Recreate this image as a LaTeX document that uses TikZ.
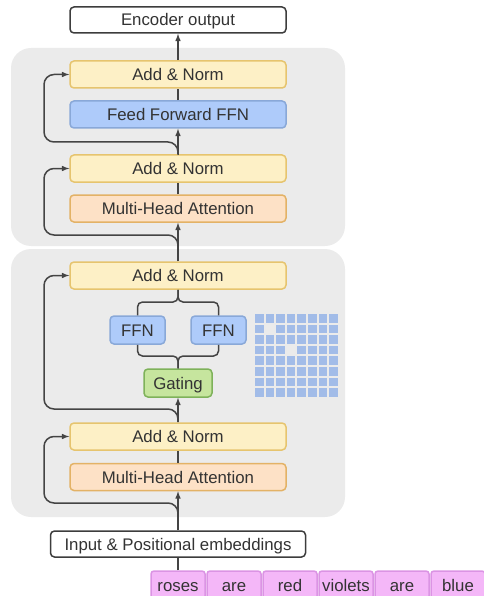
\documentclass[tikz,border=0pt]{standalone}
\usepackage{fontspec}
\setmainfont{Liberation Sans}
\usepackage{tikz}
\usetikzlibrary{arrows}
\definecolor{ink}{HTML}{444444}
\definecolor{textink}{HTML}{333333}
\definecolor{panelfill}{HTML}{EBEBEB}
\definecolor{anfill}{HTML}{FDF0C6}
\definecolor{anline}{HTML}{E6C46E}
\definecolor{ffnfill}{HTML}{AECBFA}
\definecolor{ffnline}{HTML}{89A8D8}
\definecolor{mhafill}{HTML}{FDE1C6}
\definecolor{mhaline}{HTML}{E3B266}
\definecolor{gatefill}{HTML}{C6E59E}
\definecolor{gateline}{HTML}{7EB25A}
\definecolor{wordfill}{HTML}{F4B7F8}
\definecolor{wordline}{HTML}{DB94E4}
\definecolor{cellfill}{HTML}{A2BCE8}
\tikzstyle{panel}=[fill=panelfill, rounded corners=20pt]
\tikzstyle{box}=[draw, rounded corners=4pt, line width=1.5pt, minimum width=216pt, minimum height=27pt, inner sep=0pt, text height=12pt, text depth=0pt, text=textink]
\tikzstyle{io}=[box, draw=ink!90!black, fill=white, minimum height=26pt]
\tikzstyle{addnorm}=[box, fill=anfill, draw=anline]
\tikzstyle{mha}=[box, fill=mhafill, draw=mhaline]
\tikzstyle{ffn}=[box, fill=ffnfill, draw=ffnline]
\tikzstyle{smallffn}=[ffn, minimum width=55pt, minimum height=28pt]
\tikzstyle{gate}=[box, fill=gatefill, draw=gateline, minimum width=68pt, minimum height=28pt]
\tikzstyle{word}=[box, fill=wordfill, draw=wordline, minimum width=54pt, minimum height=28pt, rounded corners=3pt]
\tikzstyle{edge}=[-latex, line width=1.5pt, draw=ink]
\tikzstyle{pipe}=[-, line width=1.5pt, draw=ink, rounded corners=5pt]
\tikzstyle{skip}=[edge, rounded corners=10pt]
\tikzstyle{cell}=[fill=cellfill]

\begin{document}
\begin{tikzpicture}[x=1pt, y=-1pt, font=\fontsize{16.8}{20}\selectfont]
\useasboundingbox (0,0) rectangle (483,596);

%The two encoder layers
\fill[panel] (11,48) rectangle (345,246);
\fill[panel] (11,249) rectangle (345,517);

\node[io] (out) at (178,20) {Encoder output};
\node[addnorm] (an1) at (178,74.5) {Add \& Norm};
\node[ffn] (ffn) at (178,114.5) {Feed Forward FFN};
\node[addnorm] (an2) at (178,168.5) {Add \& Norm};
\node[mha] (mha1) at (178,208.5) {Multi-Head Attention};

\node[addnorm] (an3) at (178,275.5) {Add \& Norm};
\node[smallffn] (ffnL) at (137.5,330) {FFN};
\node[smallffn] (ffnR) at (218.5,330) {FFN};
\node[gate] (gate) at (178,383) {Gating};
\node[addnorm] (an4) at (178,436.5) {Add \& Norm};
\node[mha] (mha2) at (178,477) {Multi-Head Attention};

\node[io, minimum width=255pt] (inp) at (178,544) {Input \& Positional embeddings};

%The input tokens
\foreach \w [count=\i] in {roses,are,red,violets,are,blue}
  \node[word] (w\i) at (122+56*\i,585) {\w};

%The main path
\draw[pipe] (w1.north) -- (inp.south);
\draw[edge] (inp.north) -- (mha2.south);
\draw[pipe] (mha2.north) -- (an4.south);
\draw[edge] (an4.north) -- (gate.south);
\draw[pipe] (ffnL.south) |- (178,356) -- (gate.north);
\draw[pipe] (ffnR.south) |- (178,356) -- (gate.north);
\draw[pipe] (ffnL.north) |- (178,302) -- (an3.south);
\draw[pipe] (ffnR.north) |- (178,302) -- (an3.south);
\draw[edge] (an3.north) -- (mha1.south);
\draw[pipe] (mha1.north) -- (an2.south);
\draw[edge] (an2.north) -- (ffn.south);
\draw[pipe] (ffn.north) -- (an1.south);
\draw[edge] (an1.north) -- (out.south);

%The residual connections
\coordinate (s4) at (178,516);
\coordinate (s3) at (178,422);
\coordinate (s2) at (178,249);
\coordinate (s1) at (178,155);
\draw[skip] (s4) |- (44,503) |- (an4.west);
\draw[skip] (s3) |- (44,409) |- (an3.west);
\draw[skip] (s2) |- (44,235) |- (an2.west);
\draw[skip] (s1) |- (44,142) |- (an1.west);

%The grid of experts
\foreach \r in {0,...,7}
  \foreach \c in {0,...,7} {
    \ifnum\r\c=11 \else\ifnum\r\c=33 \else
      \fill[cell] (255+10.6*\c,314+10.6*\r) rectangle +(8.5,8.5);
    \fi\fi
  }
\end{tikzpicture}
\end{document}
